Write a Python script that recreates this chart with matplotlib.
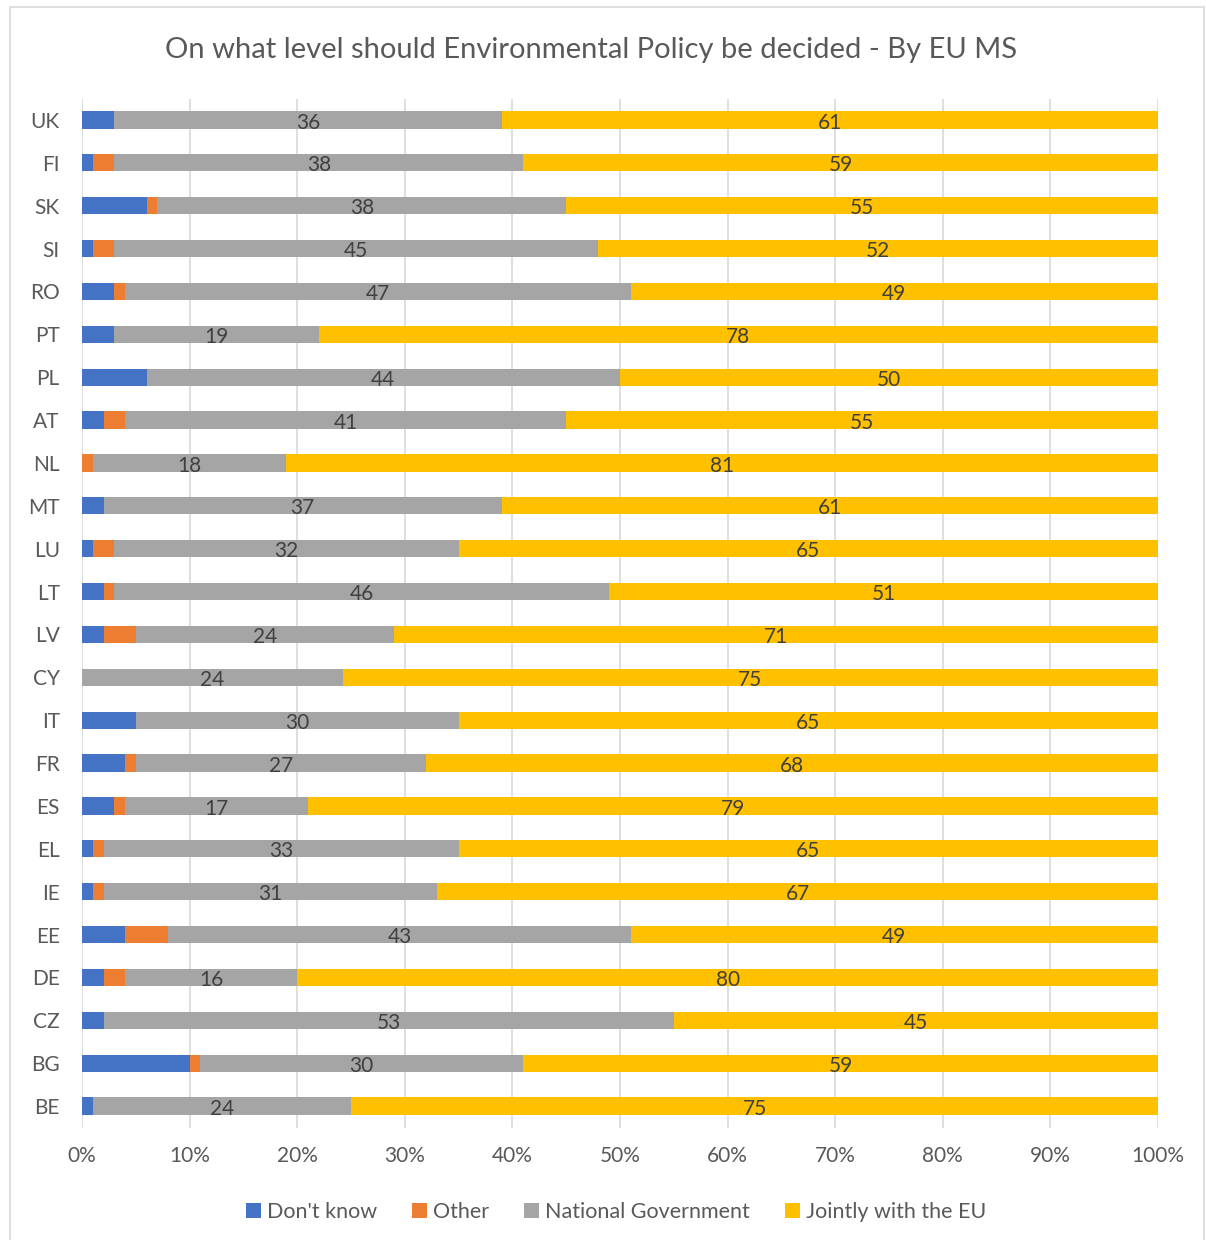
import numpy as np
import matplotlib.pyplot as plt
from matplotlib.patches import Rectangle

plt.rcParams['font.family'] = ['Lato', 'DejaVu Sans']

# countries from bottom to top
countries = ['BE', 'BG', 'CZ', 'DE', 'EE', 'IE', 'EL', 'ES', 'FR', 'IT', 'CY', 'LV',
             'LT', 'LU', 'MT', 'NL', 'AT', 'PL', 'PT', 'RO', 'SI', 'SK', 'FI', 'UK']
dont_know = [1, 10, 2, 2, 4, 1, 1, 3, 4, 5, 0, 2,
             2, 1, 2, 0, 2, 6, 3, 3, 1, 6, 1, 3]
other = [0, 1, 0, 2, 4, 1, 1, 1, 1, 0, 0, 3,
         1, 2, 0, 1, 2, 0, 0, 1, 2, 1, 2, 0]
national = [24, 30, 53, 16, 43, 31, 33, 17, 27, 30, 24, 24,
            46, 32, 37, 18, 41, 44, 19, 47, 45, 38, 38, 36]
jointly = [75, 59, 45, 80, 49, 67, 65, 79, 68, 65, 75, 71,
           51, 65, 61, 81, 55, 50, 78, 49, 52, 55, 59, 61]

series = [("Don't know", dont_know, '#4472C4', False),
          ('Other', other, '#ED7D31', False),
          ('National Government', national, '#A5A5A5', True),
          ('Jointly with the EU', jointly, '#FFC000', True)]

W, H = 1206, 1240
fig = plt.figure(figsize=(W / 100, H / 100), dpi=100)
ax = fig.add_axes([82 / W, 1 - 1127.5 / H, (1158 - 82) / W, (1127.5 - 98.5) / H])

totals = np.array(dont_know) + np.array(other) + np.array(national) + np.array(jointly)
y = np.arange(len(countries))
left = np.zeros(len(countries))
for name, vals, col, show in series:
    share = np.array(vals) / totals * 100
    ax.barh(y, share, left=left, height=0.4, color=col, label=name, zorder=2)
    if show:
        for yi, l, s, v in zip(y, left, share, vals):
            ax.text(l + s / 2, yi - 0.06, str(v), ha='center', va='center',
                    fontsize=15, color='#404040', zorder=3)
    left += share

ax.set_xlim(0, 100)
ax.set_ylim(-0.5, len(countries) - 0.5)
ax.set_xticks(np.arange(0, 101, 10))
ax.set_xticklabels([f'{t}%' for t in range(0, 101, 10)])
ax.set_yticks(y)
ax.set_yticklabels(countries)
ax.tick_params(length=0, labelsize=15, colors='#595959')
ax.tick_params(axis='x', pad=13)
ax.tick_params(axis='y', pad=16)
ax.grid(axis='x', color='#D9D9D9', lw=1.2, zorder=0)
for s in ax.spines.values():
    s.set_visible(False)

fig.text(0.5 - 12 / W, 1 - 50 / H, 'On what level should Environmental Policy be decided - By EU MS',
         ha='center', va='center', fontsize=21, color='#595959')

leg = fig.legend(loc='center', bbox_to_anchor=(616 / W, 1 - 1212 / H), ncol=4, frameon=False,
                 fontsize=15.5, handlelength=0.7, handleheight=0.7, handletextpad=0.3,
                 columnspacing=1.6, labelcolor='#595959')

fig.patches.append(Rectangle((10 / W, -0.02), (1204 - 10) / W, 1.02 - 7 / H,
                             transform=fig.transFigure, fill=False, ec='#D9D9D9', lw=1.2))

fig.savefig('out.png', dpi=100, facecolor='white')
